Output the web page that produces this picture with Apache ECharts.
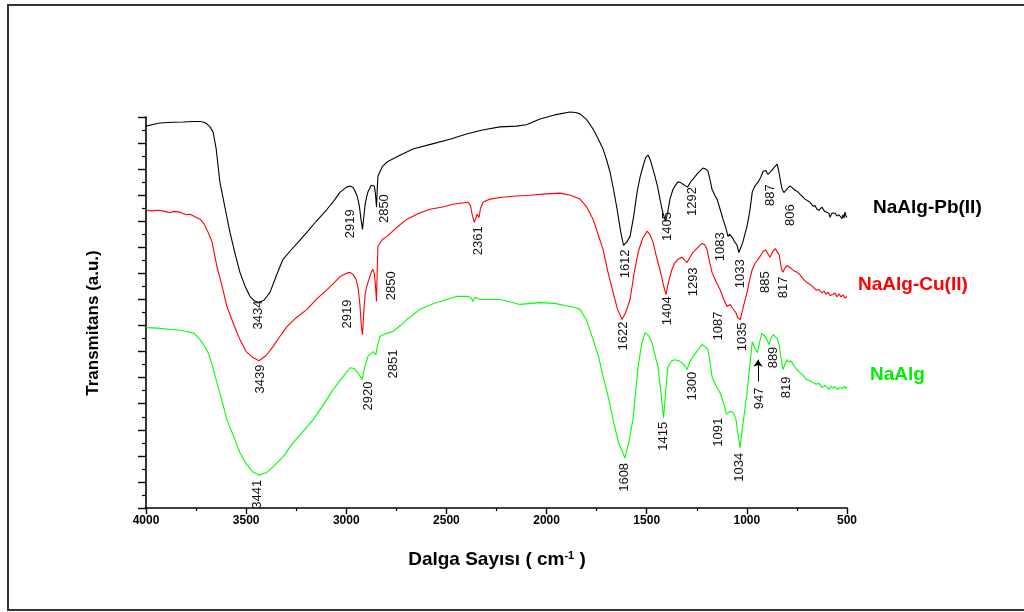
<!DOCTYPE html>
<html>
<head>
<meta charset="utf-8">
<script src="https://cdn.jsdelivr.net/npm/echarts@6/dist/echarts.min.js"></script>
<style>html,body{margin:0;padding:0;background:#fff;}#c{width:1024px;height:612px;}</style>
</head>
<body>
<div id="c"></div>
<script>
// ---- data: [wavenumber (cm-1), transmittance (a.u.)] ----
const xTicks = [4000, 3500, 3000, 2500, 2000, 1500, 1000, 500];
const seriesNames = ['NaAlg-Pb(II)', 'NaAlg-Cu(II)', 'NaAlg'];

const pbData = [[4000,14.65],[3960,14.72],[3930,14.77],[3870,14.8],[3815,14.81],[3760,14.83],[3730,14.83],[3710,14.8],[3695,14.73],[3680,14.62],[3665,14.42],[3650,13.8],[3631,12.5],[3605,11.5],[3581,10.58],[3555,9.75],[3531,9.04],[3505,8.5],[3481,8.12],[3460,7.95],[3436,7.88],[3410,7.98],[3381,8.27],[3350,8.9],[3316,9.54],[3281,9.85],[3240,10.2],[3196,10.58],[3150,11.0],[3096,11.46],[3060,11.8],[3031,12.12],[3000,12.3],[2981,12.35],[2966,12.3],[2956,12.15],[2945,11.95],[2935,11.6],[2927,11.1],[2919,10.69],[2912,11.2],[2906,11.65],[2898,11.95],[2892,12.12],[2875,12.38],[2867,12.42],[2860,12.35],[2855,12.1],[2849,11.54],[2845,12.3],[2842,12.73],[2820,13.1],[2797,13.27],[2740,13.5],[2667,13.77],[2580,13.95],[2482,14.15],[2400,14.35],[2320,14.5],[2233,14.62],[2150,14.65],[2100,14.7],[2033,14.92],[1960,15.08],[1883,15.19],[1855,15.17],[1833,15.12],[1800,14.9],[1768,14.54],[1745,14.2],[1718,13.77],[1700,13.35],[1683,12.88],[1665,12.2],[1648,11.46],[1630,10.6],[1616,10.08],[1600,10.2],[1583,10.42],[1565,11.2],[1548,12.12],[1533,12.7],[1518,13.12],[1505,13.45],[1493,13.54],[1480,13.3],[1459,12.73],[1445,12.3],[1434,11.85],[1420,11.35],[1406,11.0],[1395,11.35],[1384,11.85],[1370,12.2],[1359,12.35],[1345,12.5],[1334,12.5],[1315,12.4],[1296,12.31],[1282,12.5],[1269,12.62],[1245,12.85],[1219,13.04],[1205,13.0],[1194,12.92],[1184,12.6],[1174,12.23],[1160,12.0],[1149,11.85],[1135,11.5],[1119,11.08],[1105,10.75],[1094,10.42],[1086,10.5],[1079,10.46],[1070,10.35],[1063,10.23],[1050,10.1],[1040,9.8],[1034,9.73],[1020,10.2],[1010,10.5],[999,10.81],[985,11.4],[973,12.12],[960,12.35],[944,12.5],[930,12.7],[919,12.92],[905,12.95],[895,12.8],[889,12.73],[875,12.95],[860,13.1],[849,13.19],[840,12.9],[830,12.45],[824,12.23],[815,12.1],[807,12.04],[798,12.25],[786,12.35],[775,12.3],[760,12.19],[748,12.15],[735,12.04],[722,11.95],[710,11.85],[698,11.8],[685,11.73],[670,11.58],[660,11.6],[650,11.46],[640,11.42],[625,11.54],[612,11.38],[601,11.35],[590,11.3],[585,11.15],[575,11.32],[560,11.31],[550,11.2],[540,11.25],[535,11.19],[525,11.1],[520,11.25],[515,11.12],[510,11.35],[505,11.2],[500,11.15]];

const cuData = [[4000,11.42],[3970,11.4],[3940,11.42],[3905,11.38],[3880,11.33],[3860,11.38],[3830,11.35],[3800,11.25],[3780,11.27],[3750,11.15],[3730,11.08],[3710,10.9],[3690,10.58],[3670,10.2],[3646,9.27],[3620,8.5],[3596,7.73],[3560,7.0],[3531,6.46],[3500,6.0],[3466,5.77],[3436,5.65],[3400,5.85],[3366,6.19],[3330,6.6],[3296,6.96],[3250,7.3],[3196,7.62],[3150,8.0],[3096,8.38],[3060,8.65],[3031,8.88],[3000,9.0],[2981,9.04],[2965,8.95],[2951,8.77],[2940,8.4],[2932,7.8],[2925,7.0],[2919,6.65],[2912,7.6],[2906,8.19],[2898,8.5],[2892,8.65],[2875,9.05],[2867,9.15],[2860,9.0],[2855,8.6],[2849,7.92],[2846,9.0],[2842,10.04],[2820,10.3],[2797,10.42],[2750,10.75],[2697,11.08],[2640,11.3],[2582,11.46],[2520,11.55],[2467,11.65],[2420,11.7],[2392,11.73],[2380,11.6],[2370,11.2],[2361,10.96],[2354,11.1],[2347,11.27],[2342,11.2],[2337,11.15],[2330,11.5],[2317,11.73],[2300,11.8],[2282,11.85],[2220,11.92],[2168,11.96],[2083,12.0],[2000,12.05],[1933,12.08],[1880,12.0],[1833,11.85],[1800,11.55],[1768,11.08],[1745,10.55],[1718,9.92],[1695,9.1],[1668,8.27],[1645,7.6],[1623,7.23],[1605,7.5],[1583,8.0],[1563,9.0],[1543,9.81],[1520,10.35],[1498,10.62],[1485,10.5],[1468,10.19],[1450,9.6],[1434,9.15],[1418,8.6],[1404,8.19],[1390,8.7],[1374,9.15],[1360,9.4],[1344,9.54],[1324,9.62],[1310,9.5],[1299,9.42],[1285,9.6],[1269,9.81],[1245,10.0],[1224,10.15],[1210,10.1],[1199,9.92],[1185,9.4],[1174,9.04],[1155,8.7],[1134,8.38],[1115,8.0],[1099,7.73],[1090,7.8],[1083,7.81],[1075,7.7],[1069,7.69],[1055,7.5],[1045,7.3],[1033,7.23],[1015,7.8],[999,8.27],[985,8.8],[973,9.15],[958,9.4],[944,9.54],[930,9.7],[919,9.85],[905,9.9],[895,9.75],[884,9.62],[870,9.85],[858,9.95],[849,10.0],[838,9.7],[828,9.2],[820,9.04],[810,9.2],[800,9.3],[794,9.27],[780,9.2],[765,9.1],[749,9.04],[735,8.95],[720,8.8],[700,8.65],[690,8.6],[680,8.55],[670,8.48],[660,8.4],[650,8.35],[640,8.38],[635,8.31],[625,8.25],[615,8.32],[605,8.2],[595,8.28],[585,8.15],[570,8.19],[560,8.25],[550,8.1],[540,8.22],[530,8.1],[520,8.18],[510,8.05],[500,8.12]];

const naData = [[4000,6.92],[3940,6.9],[3880,6.85],[3840,6.83],[3795,6.77],[3760,6.7],[3730,6.46],[3710,6.25],[3690,5.96],[3670,5.5],[3646,4.81],[3620,4.1],[3596,3.38],[3560,2.7],[3531,2.12],[3500,1.7],[3466,1.38],[3436,1.27],[3400,1.35],[3366,1.58],[3316,1.96],[3266,2.5],[3220,2.9],[3166,3.38],[3120,3.9],[3066,4.54],[3020,5.0],[2981,5.38],[2960,5.35],[2946,5.23],[2935,5.1],[2921,4.92],[2910,5.35],[2900,5.6],[2892,5.81],[2867,6.0],[2860,5.95],[2852,5.88],[2845,6.2],[2832,6.58],[2800,6.7],[2767,6.77],[2730,7.0],[2697,7.23],[2632,7.62],[2580,7.8],[2532,7.92],[2447,8.12],[2392,8.12],[2375,8.05],[2367,7.92],[2358,8.08],[2352,8.04],[2332,8.0],[2233,8.0],[2180,7.9],[2133,7.81],[2033,7.88],[1960,7.85],[1908,7.77],[1860,7.7],[1833,7.62],[1800,7.2],[1768,6.46],[1740,5.8],[1718,5.04],[1690,4.2],[1668,3.38],[1640,2.5],[1609,1.92],[1590,2.5],[1569,3.38],[1555,4.5],[1543,5.42],[1525,6.3],[1508,6.73],[1490,6.6],[1474,6.35],[1460,5.9],[1444,5.42],[1430,4.5],[1416,3.46],[1405,4.5],[1394,5.42],[1375,5.65],[1359,5.69],[1340,5.65],[1324,5.58],[1310,5.45],[1299,5.31],[1285,5.6],[1269,5.81],[1245,6.05],[1224,6.27],[1210,6.2],[1194,6.08],[1184,5.6],[1174,5.04],[1155,4.7],[1134,4.42],[1115,4.0],[1102,3.6],[1094,3.58],[1085,3.7],[1074,3.69],[1064,3.6],[1054,3.38],[1044,2.8],[1034,2.31],[1020,3.2],[999,4.42],[985,5.5],[973,6.38],[966,6.4],[958,6.1],[947,5.96],[935,6.4],[925,6.7],[919,6.73],[905,6.55],[889,6.27],[880,6.5],[868,6.65],[859,6.65],[848,6.5],[839,6.27],[830,5.8],[820,5.31],[810,5.5],[799,5.69],[790,5.6],[780,5.65],[769,5.5],[755,5.35],[735,5.19],[720,5.1],[705,4.95],[690,4.9],[670,4.81],[655,4.75],[640,4.78],[625,4.62],[612,4.7],[601,4.65],[590,4.55],[580,4.68],[570,4.6],[560,4.65],[548,4.55],[535,4.62],[525,4.58],[515,4.66],[505,4.6],[500,4.65]];

// peak annotations: [wavenumber, value at label top, text]
const pbPeaks = [[3441,7.96,'3434'],[2979,11.46,'2919'],[2812,12.04,'2850'],[1608,9.92,'1612'],[1399,11.35,'1405'],[1274,12.31,'1292'],[1134,10.58,'1083'],[1034,9.54,'1033'],[884,12.42,'887'],[784,11.65,'806']];
const cuPeaks = [[3431,5.5,'3439'],[2996,8.0,'2919'],[2777,9.08,'2850'],[2342,10.81,'2361'],[1618,7.15,'1622'],[1399,8.12,'1404'],[1269,9.23,'1293'],[1144,7.54,'1087'],[1024,7.12,'1035'],[909,9.08,'885'],[819,8.88,'817']];
const naPeaks = [[3446,1.08,'3441'],[2887,4.85,'2920'],[2767,6.08,'2851'],[1613,1.73,'1608'],[1419,3.31,'1415'],[1274,5.23,'1300'],[1144,3.46,'1091'],[1039,2.12,'1034'],[939,4.62,'947'],[869,6.19,'889'],[804,5.04,'819']];
const naArrow = [[944,4.85],[944,5.69]];

const FONT = '"Liberation Sans", Arial, Helvetica, sans-serif';
const chart = echarts.init(document.getElementById('c'), null, {renderer: 'canvas'});

function peakSeries(data) {
  return {
    type: 'custom',
    data: data,
    clip: false,
    silent: true,
    z: 5,
    renderItem: function (params, api) {
      const p = api.coord([api.value(0), api.value(1)]);
      return {
        type: 'text',
        x: p[0], y: p[1],
        rotation: Math.PI / 2,
        style: {
          text: data[params.dataIndex][2],
          fill: '#111',
          font: '13px ' + FONT,
          align: 'right', textAlign: 'right',
          verticalAlign: 'middle', textVerticalAlign: 'middle'
        }
      };
    }
  };
}

function lineSeries(name, data, color, extra) {
  return Object.assign({
    name: name, type: 'line', data: data, showSymbol: false, symbol: 'none',
    clip: false, smooth: false, lineStyle: {color: color, width: 1.1}, z: 3, silent: true
  }, extra || {});
}

const option = {
  animation: false,
  backgroundColor: '#fff',
  grid: {left: 146, right: 177, top: 117, bottom: 104},
  xAxis: {
    type: 'value', min: 500, max: 4000, interval: 500, inverse: true,
    axisLine: {lineStyle: {color: '#000', width: 1.6}},
    axisTick: {length: 6, lineStyle: {color: '#000', width: 1.4}},
    minorTick: {show: true, splitNumber: 2, length: 3, lineStyle: {color: '#000', width: 1.2}},
    splitLine: {show: false},
    axisLabel: {color: '#000', fontFamily: FONT, fontWeight: 'bold', fontSize: 12, margin: 7,
      formatter: function (v) { return xTicks.indexOf(v) >= 0 ? String(v) : ''; }}
  },
  yAxis: {
    type: 'value', min: 0, max: 15, interval: 1,
    axisLine: {lineStyle: {color: '#000', width: 1.6}},
    axisTick: {length: 8, lineStyle: {color: '#000', width: 1.4}},
    minorTick: {show: true, splitNumber: 2, length: 4, lineStyle: {color: '#000', width: 1.2}},
    splitLine: {show: false},
    axisLabel: {show: false}
  },
  series: [
    lineSeries(seriesNames[0], pbData, '#000000'),
    lineSeries(seriesNames[1], cuData, '#ff0000'),
    lineSeries(seriesNames[2], naData, '#00ff00', {
      markLine: {
        silent: true, symbol: ['none', 'arrow'], symbolSize: 7,
        label: {show: false},
        lineStyle: {color: '#000', width: 1, type: 'solid'},
        data: [[{coord: naArrow[0]}, {coord: naArrow[1]}]]
      }
    }),
    peakSeries(pbPeaks),
    peakSeries(cuPeaks),
    peakSeries(naPeaks)
  ],
  graphic: [
    {type: 'rect', silent: true, shape: {x: 8, y: 5, width: 1060, height: 605},
      style: {fill: 'none', stroke: '#333', lineWidth: 2}},
    {type: 'text', x: 873, y: 208, silent: true,
      style: {text: seriesNames[0], fill: '#000', font: 'bold 19px ' + FONT, align: 'left', verticalAlign: 'middle'}},
    {type: 'text', x: 858, y: 285, silent: true,
      style: {text: seriesNames[1], fill: '#ff0000', font: 'bold 19px ' + FONT, align: 'left', verticalAlign: 'middle'}},
    {type: 'text', x: 870, y: 375, silent: true,
      style: {text: seriesNames[2], fill: '#00ee00', font: 'bold 19px ' + FONT, align: 'left', verticalAlign: 'middle'}},
    {type: 'text', x: 497, y: 560, silent: true,
      style: {text: 'Dalga Sayısı ( cm{sup|-1} )', fill: '#000', font: 'bold 19px ' + FONT,
        align: 'center', verticalAlign: 'middle',
        rich: {sup: {fontSize: 11, fontWeight: 'bold', fontFamily: FONT, verticalAlign: 'top', padding: [0, 0, 6, 0], fill: '#000'}}}},
    {type: 'text', x: 93, y: 323, rotation: Math.PI / 2, silent: true,
      style: {text: 'Transmitans (a.u.)', fill: '#000', font: 'bold 17px ' + FONT, align: 'center', verticalAlign: 'middle'}}
  ]
};
chart.setOption(option);
</script>
</body>
</html>
